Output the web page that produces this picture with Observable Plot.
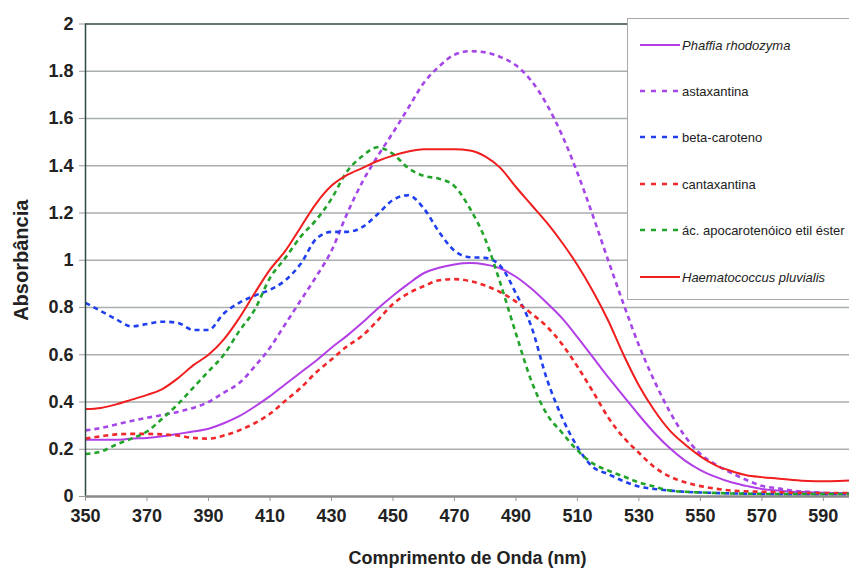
<!DOCTYPE html>
<html>
<head>
<meta charset="utf-8">
<script src="https://cdn.jsdelivr.net/npm/d3@7"></script>
<script src="https://cdn.jsdelivr.net/npm/@observablehq/plot@0.6"></script>
<style>
  html, body { margin: 0; padding: 0; background: #fff; overflow: hidden; }
  #wrap { position: relative; width: 849px; height: 569px; overflow: hidden; font-family: "Liberation Sans", Arial, sans-serif; }
  #wrap > svg { position: absolute; left: 0; top: 0; }
  #wrap g[aria-label="x-axis label"] text { font-weight: bold; font-size: 18px; fill: #222; }
  #wrap g[aria-label="y-axis label"] text { font-weight: bold; font-size: 20px; fill: #222; }
  #wrap g[aria-label="x-axis tick label"] text, #wrap g[aria-label="y-axis tick label"] text { fill: #222; font-size: 18px; font-weight: bold; }
  #legend { position: absolute; left: 627px; top: 18px; width: 240px; height: 282px; background: #fff; border: 1px solid #a8a8a8; box-sizing: border-box; }
  #legend .item { position: absolute; left: 12px; height: 16px; display: flex; align-items: center; font-size: 13px; color: #222; white-space: nowrap; }
  #legend .item svg { position: static; margin-right: 2px; display: block; }
  #legend .it { font-style: italic; }
</style>
</head>
<body>
<div id="wrap"></div>
<script>
// Wavelengths (nm)
const wavelength = [350,355,360,365,370,375,380,385,390,395,400,405,410,415,420,425,430,435,440,445,450,455,460,465,470,475,480,485,490,495,500,505,510,515,520,525,530,535,540,545,550,555,560,565,570,575,580,585,590,595,600];

const phaffia = [0.24,0.24,0.24,0.245,0.248,0.255,0.265,0.275,0.287,0.31,0.34,0.38,0.425,0.475,0.525,0.575,0.63,0.68,0.735,0.795,0.85,0.90,0.945,0.968,0.982,0.988,0.982,0.965,0.93,0.88,0.82,0.755,0.675,0.59,0.505,0.425,0.345,0.27,0.205,0.152,0.112,0.083,0.06,0.045,0.032,0.025,0.02,0.018,0.016,0.015,0.014];

const astaxantina = [0.28,0.29,0.305,0.32,0.333,0.345,0.358,0.375,0.40,0.44,0.48,0.55,0.63,0.73,0.83,0.93,1.04,1.195,1.33,1.44,1.54,1.645,1.75,1.82,1.87,1.885,1.88,1.86,1.825,1.76,1.66,1.53,1.37,1.19,1.0,0.815,0.64,0.49,0.36,0.255,0.18,0.135,0.10,0.07,0.045,0.035,0.025,0.02,0.015,0.012,0.01];

const betaCaroteno = [0.82,0.785,0.75,0.72,0.73,0.74,0.735,0.705,0.705,0.775,0.82,0.85,0.875,0.915,0.985,1.09,1.12,1.12,1.14,1.195,1.255,1.275,1.22,1.12,1.04,1.013,1.01,0.975,0.86,0.72,0.50,0.335,0.21,0.125,0.095,0.065,0.042,0.032,0.025,0.02,0.017,0.015,0.013,0.012,0.011,0.01,0.01,0.01,0.01,0.01,0.01];

const cantaxantina = [0.245,0.255,0.263,0.265,0.265,0.263,0.258,0.248,0.245,0.258,0.28,0.31,0.35,0.405,0.46,0.525,0.58,0.635,0.68,0.745,0.815,0.86,0.89,0.915,0.92,0.912,0.893,0.864,0.825,0.775,0.72,0.645,0.55,0.445,0.335,0.25,0.185,0.125,0.085,0.06,0.044,0.033,0.025,0.022,0.02,0.018,0.016,0.015,0.015,0.015,0.015];

const apocarotenoico = [0.18,0.19,0.22,0.245,0.275,0.33,0.39,0.46,0.53,0.60,0.70,0.79,0.925,1.01,1.10,1.17,1.26,1.375,1.44,1.478,1.45,1.39,1.357,1.345,1.314,1.22,1.09,0.90,0.69,0.49,0.35,0.27,0.195,0.14,0.11,0.085,0.06,0.042,0.025,0.02,0.017,0.015,0.013,0.012,0.011,0.01,0.01,0.01,0.01,0.01,0.01];

const haematococcus = [0.37,0.375,0.39,0.41,0.43,0.455,0.50,0.555,0.60,0.665,0.755,0.86,0.96,1.04,1.14,1.24,1.315,1.36,1.39,1.42,1.443,1.46,1.47,1.47,1.47,1.465,1.44,1.39,1.31,1.235,1.16,1.075,0.98,0.87,0.745,0.60,0.47,0.365,0.28,0.22,0.17,0.132,0.108,0.09,0.082,0.076,0.07,0.066,0.065,0.066,0.068];

const xTicks = [350,370,390,410,430,450,470,490,510,530,550,570,590];
const yTicks = [0,0.2,0.4,0.6,0.8,1,1.2,1.4,1.6,1.8,2];

const seriesDefs = [
  {name: "Phaffia rhodozyma", values: phaffia, color: "#b23ee6", dash: null, width: 2, italic: true},
  {name: "astaxantina", values: astaxantina, color: "#a546e8", dash: "5,4", width: 2.6, italic: false},
  {name: "beta-caroteno", values: betaCaroteno, color: "#1f3ff0", dash: "5,4", width: 2.6, italic: false},
  {name: "cantaxantina", values: cantaxantina, color: "#f0282a", dash: "5,4", width: 2.6, italic: false},
  {name: "ác. apocarotenóico etil éster", values: apocarotenoico, color: "#22a32a", dash: "5,4", width: 2.6, italic: false},
  {name: "Haematococcus pluvialis", values: haematococcus, color: "#f01e1e", dash: null, width: 2, italic: true}
];

const lineMarks = seriesDefs.map(s => Plot.line(
  wavelength.map((w, i) => ({w, v: s.values[i]})),
  {x: "w", y: "v", stroke: s.color, strokeWidth: s.width, strokeDasharray: s.dash, curve: "monotone-x", strokeLinecap: "butt"}
));

const chart = Plot.plot({
  width: 849,
  height: 569,
  marginLeft: 85,
  marginRight: 0,
  marginTop: 23.5,
  marginBottom: 73,
  style: {fontFamily: "'Liberation Sans', Arial, sans-serif", fontSize: "15px", background: "transparent", overflow: "hidden"},
  x: {domain: [350, 598.5]},
  y: {domain: [0, 2]},
  marks: [
    Plot.gridY(yTicks.filter(t => t > 0 && t < 2), {stroke: "#a9aeae", strokeOpacity: 1, strokeWidth: 1.5}),
    Plot.ruleY([2], {stroke: "#2e4a46", strokeWidth: 1.5}),
    Plot.axisY(yTicks, {tickSize: 6, tickPadding: 6, stroke: "#999", label: "Absorbância", labelAnchor: "center", labelArrow: "none", labelOffset: 72, tickFormat: d3.format("")}),
    Plot.axisX(xTicks, {tickSize: 5, tickPadding: 8, stroke: "#999", label: "Comprimento de Onda (nm)", labelAnchor: "center", labelArrow: "none", labelOffset: 67}),
    ...lineMarks,
    Plot.ruleX([350], {stroke: "#2e4a46", strokeWidth: 1.5}),
    Plot.ruleY([0], {stroke: "#8a8a8a", strokeWidth: 2.5})
  ]
});

const wrap = document.getElementById("wrap");
wrap.appendChild(chart);

// Legend (HTML overlay)
const legend = document.createElement("div");
legend.id = "legend";
const rowTops = [18, 64, 110, 157, 203, 250];
seriesDefs.forEach((s, i) => {
  const row = document.createElement("div");
  row.className = "item";
  row.style.top = rowTops[i] + "px";
  const ns = "http://www.w3.org/2000/svg";
  const sv = document.createElementNS(ns, "svg");
  sv.setAttribute("width", "40");
  sv.setAttribute("height", "8");
  const ln = document.createElementNS(ns, "line");
  ln.setAttribute("x1", "0");
  ln.setAttribute("x2", "40");
  ln.setAttribute("y1", "4");
  ln.setAttribute("y2", "4");
  ln.setAttribute("stroke", s.color);
  ln.setAttribute("stroke-width", s.dash ? "2.6" : "2");
  if (s.dash) ln.setAttribute("stroke-dasharray", "5,6");
  sv.appendChild(ln);
  row.appendChild(sv);
  const t = document.createElement("span");
  t.textContent = s.name;
  if (s.italic) t.className = "it";
  row.appendChild(t);
  legend.appendChild(row);
});
wrap.appendChild(legend);
</script>
</body>
</html>
